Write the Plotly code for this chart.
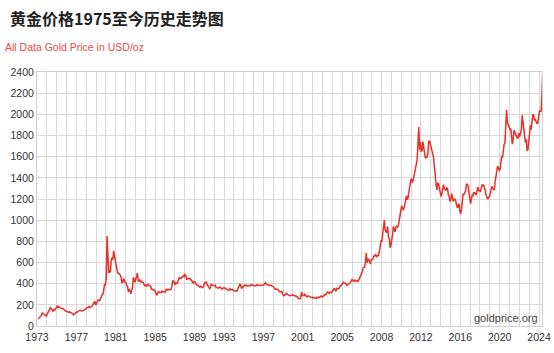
import pandas as pd
import plotly.graph_objects as go

# Monthly gold price (USD/oz), Jan 1973 .. Apr 2024
start_month = "1973-01-15"
monthly_price = [
    65, 74, 84, 90, 102, 123, 118, 106, 103, 100, 94, 112,          # 1973
    129, 150, 172, 172, 163, 150, 143, 154, 151, 158, 181, 190,     # 1974
    176, 182, 178, 170, 167, 164, 166, 160, 144, 142, 142, 139,     # 1975
    131, 131, 133, 128, 127, 125, 118, 105, 114, 117, 131, 133,     # 1976
    132, 136, 148, 149, 147, 141, 143, 145, 149, 158, 162, 161,     # 1977
    173, 178, 184, 175, 176, 183, 188, 206, 212, 235, 200, 208,     # 1978
    227, 245, 242, 239, 257, 279, 294, 301, 355, 392, 392, 455,     # 1979
    850, 665, 500, 517, 514, 620, 645, 627, 710, 661, 623, 594,     # 1980
    557, 500, 499, 495, 480, 461, 409, 410, 443, 437, 413, 410,     # 1981
    384, 374, 320, 350, 334, 305, 339, 364, 460, 422, 414, 444,     # 1982
    481, 500, 420, 432, 438, 413, 422, 416, 411, 394, 382, 388,     # 1983
    371, 387, 394, 381, 377, 378, 347, 348, 341, 340, 341, 320,     # 1984
    303, 290, 315, 325, 316, 317, 317, 329, 323, 326, 325, 322,     # 1985
    345, 339, 346, 340, 342, 343, 348, 376, 425, 423, 397, 391,     # 1986
    408, 401, 409, 439, 460, 450, 450, 460, 460, 475, 468, 487,     # 1987
    477, 442, 444, 452, 451, 451, 438, 432, 413, 406, 420, 419,     # 1988
    404, 388, 390, 384, 371, 367, 375, 365, 362, 367, 394, 409,     # 1989
    410, 416, 393, 374, 369, 352, 362, 395, 389, 381, 381, 378,     # 1990
    383, 364, 363, 358, 357, 367, 368, 356, 349, 358, 360, 361,     # 1991
    354, 354, 345, 338, 337, 341, 353, 343, 345, 344, 335, 334,     # 1992
    329, 330, 330, 342, 367, 372, 400, 379, 355, 365, 374, 383,     # 1993
    387, 382, 384, 377, 381, 385, 385, 380, 391, 389, 384, 379,     # 1994
    379, 376, 382, 391, 385, 387, 386, 383, 383, 383, 386, 387,     # 1995
    400, 410, 396, 393, 392, 385, 383, 387, 383, 381, 378, 369,     # 1996
    355, 347, 352, 344, 344, 341, 324, 324, 323, 325, 306, 289,     # 1997
    289, 297, 296, 308, 299, 292, 293, 284, 289, 296, 294, 291,     # 1998
    287, 288, 286, 282, 277, 261, 256, 256, 265, 320, 293, 284,     # 1999
    285, 300, 286, 280, 275, 285, 282, 275, 274, 270, 266, 272,     # 2000
    266, 262, 263, 261, 272, 270, 268, 273, 283, 283, 276, 276,     # 2001
    282, 296, 294, 302, 314, 322, 314, 310, 319, 317, 319, 333,     # 2002
    356, 359, 340, 328, 355, 356, 351, 360, 379, 379, 389, 407,     # 2003
    414, 405, 406, 404, 384, 392, 398, 400, 406, 420, 439, 442,     # 2004
    424, 423, 434, 429, 422, 430, 424, 438, 456, 470, 476, 510,     # 2005
    549, 555, 557, 610, 690, 596, 633, 632, 598, 585, 627, 629,     # 2006
    631, 665, 655, 679, 667, 655, 665, 665, 712, 754, 806, 803,     # 2007
    889, 922, 1000, 909, 888, 889, 939, 839, 829, 740, 760, 816,    # 2008
    858, 943, 924, 890, 928, 946, 934, 949, 996, 1043, 1127, 1135,  # 2009
    1118, 1095, 1113, 1148, 1205, 1232, 1193, 1215, 1271, 1342, 1370, 1391,  # 2010
    1356, 1372, 1424, 1474, 1510, 1529, 1572, 1756, 1880, 1665, 1739, 1652,  # 2011
    1656, 1742, 1673, 1650, 1585, 1596, 1594, 1626, 1744, 1747, 1721, 1684,  # 2012
    1671, 1627, 1593, 1487, 1414, 1343, 1286, 1347, 1348, 1316, 1275, 1225,  # 2013
    1244, 1300, 1336, 1299, 1287, 1279, 1311, 1296, 1239, 1222, 1176, 1200,  # 2014
    1250, 1227, 1179, 1198, 1199, 1181, 1131, 1117, 1125, 1157, 1086, 1060,  # 2015
    1097, 1200, 1246, 1242, 1260, 1276, 1337, 1340, 1326, 1266, 1238, 1157,  # 2016
    1192, 1234, 1231, 1266, 1246, 1260, 1236, 1283, 1314, 1280, 1282, 1265,  # 2017
    1331, 1331, 1325, 1335, 1303, 1282, 1238, 1202, 1198, 1215, 1221, 1250,  # 2018
    1291, 1320, 1300, 1286, 1284, 1359, 1413, 1500, 1510, 1495, 1470, 1479,  # 2019
    1560, 1597, 1591, 1683, 1716, 1732, 1846, 2040, 1922, 1900, 1866, 1858,  # 2020
    1867, 1808, 1718, 1760, 1850, 1834, 1807, 1785, 1775, 1777, 1822, 1790,  # 2021
    1817, 1856, 1990, 1937, 1849, 1836, 1733, 1765, 1660, 1664, 1726, 1798,  # 2022
    1898, 1855, 1912, 2000, 1992, 1943, 1951, 1918, 1916, 1916, 1985, 2030,  # 2023
    2034, 2025, 2160, 2390,                                          # 2024
]

tick_dates = ["1973-01-01", "1977-01-01", "1981-01-01", "1985-01-01", "1989-01-01",
              "1992-01-01", "1996-01-01", "2000-01-01", "2004-01-01", "2008-01-01",
              "2012-01-01", "2016-01-01", "2020-01-01", "2024-01-01"]
tick_labels = ["1973", "1977", "1981", "1985", "1989", "1993", "1997", "2001",
               "2005", "2008", "2012", "2016", "2020", "2024"]

title_text = "黄金价格1975至今历史走势图"
subtitle_text = "All Data Gold Price in USD/oz"
credit_text = "goldprice.org"

dates = pd.date_range(start_month, periods=len(monthly_price), freq="MS") + pd.Timedelta(days=14)

GRID = "#d8d8d8"
TICKFONT = dict(family="Liberation Sans, Arial, sans-serif", size=10.5, color="#333333")

fig = go.Figure()
fig.add_trace(go.Scatter(
    x=dates, y=monthly_price, mode="lines",
    line=dict(color="#e8302a", width=1.5),
    hoverinfo="skip", showlegend=False,
))

fig.update_layout(
    width=554, height=353,
    margin=dict(l=37, r=12, t=72, b=27, autoexpand=False),
    paper_bgcolor="white", plot_bgcolor="white",
    xaxis=dict(
        type="date", automargin=False,
        range=["1973-01-01", "2024-04-20"],
        tickmode="array", tickvals=tick_dates, ticktext=tick_labels,
        tickfont=TICKFONT, ticks="", ticklen=0, ticklabelstandoff=1,
        showgrid=True, gridcolor=GRID, gridwidth=1,
        minor=dict(tick0="1973-01-01", dtick="M12", showgrid=True,
                   gridcolor=GRID, gridwidth=1, ticks=""),
        showline=True, linecolor="#cfcfcf", linewidth=1, mirror=True,
        zeroline=False,
    ),
    yaxis=dict(
        automargin=False,
        range=[0, 2400], dtick=200, tick0=0,
        tickfont=TICKFONT, ticks="",
        showgrid=True, gridcolor=GRID, gridwidth=1,
        showline=True, linecolor="#cfcfcf", linewidth=1, mirror=True,
        zeroline=False,
    ),
    annotations=[
        dict(text="<b>" + title_text + "</b>", xref="paper", yref="paper",
             x=-29 / 505, y=1 + (72 - 18) / 254, xanchor="left", yanchor="middle",
             showarrow=False,
             font=dict(family="Noto Sans CJK SC, sans-serif", size=16, color="#222222")),
        dict(text=subtitle_text, xref="paper", yref="paper",
             x=-34 / 505, y=1 + (72 - 47) / 254, xanchor="left", yanchor="middle",
             showarrow=False,
             font=dict(family="Liberation Sans, Arial, sans-serif", size=10.5, color="#ee4a45")),
        dict(text=credit_text, xref="paper", yref="paper",
             x=(540 - 37) / 505, y=(326 - 318) / 254, xanchor="right", yanchor="middle",
             showarrow=False,
             font=dict(family="Liberation Sans, Arial, sans-serif", size=11, color="#444444")),
    ],
)

fig.write_html("out.html")
